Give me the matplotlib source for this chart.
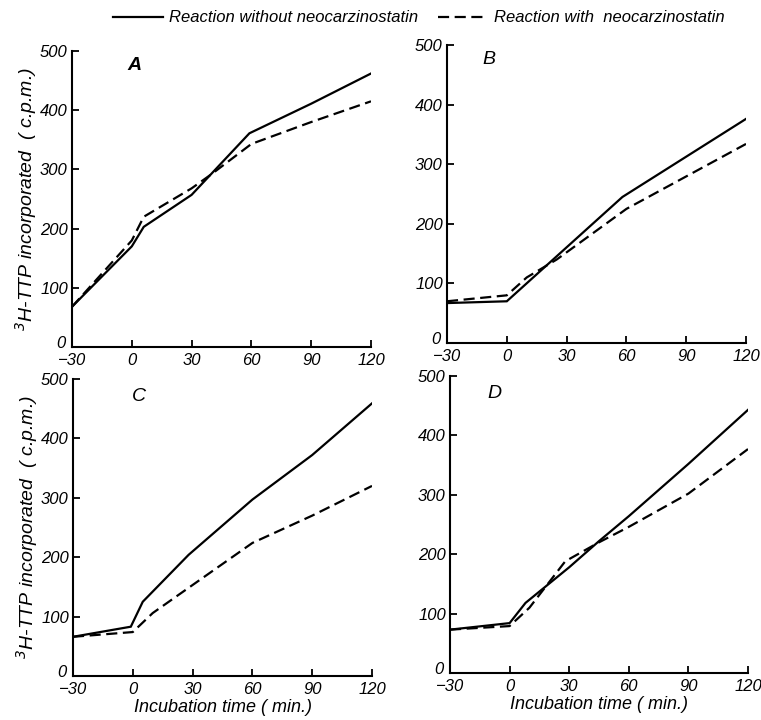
import matplotlib
matplotlib.use("Agg")
import matplotlib.pyplot as plt
from matplotlib.transforms import ScaledTranslation

FONT = ['Liberation Sans Narrow', 'Liberation Sans', 'DejaVu Sans']
plt.rcParams['font.family'] = FONT
plt.rcParams['font.style'] = 'italic'

# ---- data ----
xticks = [-30, 0, 30, 60, 90, 120]
yticks = [0, 100, 200, 300, 400, 500]

a_x_without = [-30, 0, 6, 30, 59, 90, 120]
a_y_without = [68, 170, 203, 257, 361, 411, 462]
a_x_with = [-30, 0, 6, 30, 40, 60, 90, 120]
a_y_with = [68, 180, 220, 268, 292, 343, 380, 415]

b_x_without = [-30, 0, 58, 120]
b_y_without = [67, 70, 245, 376]
b_x_with = [-30, 0, 10, 25, 60, 120]
b_y_with = [70, 80, 110, 140, 225, 334]

c_x_without = [-30, -1, 5, 28, 60, 90, 120]
c_y_without = [66, 83, 125, 204, 297, 372, 459]
c_x_with = [-30, 0, 10, 60, 90, 120]
c_y_with = [66, 74, 106, 224, 270, 320]

d_x_without = [-30, 0, 8, 30, 45, 60, 90, 120]
d_y_without = [73, 84, 118, 178, 222, 264, 352, 443]
d_x_with = [-30, 0, 10, 28, 45, 60, 90, 120]
d_y_with = [73, 79, 110, 188, 220, 246, 302, 377]

panels = [
    ("A", a_x_without, a_y_without, a_x_with, a_y_with),
    ("B", b_x_without, b_y_without, b_x_with, b_y_with),
    ("C", c_x_without, c_y_without, c_x_with, c_y_with),
    ("D", d_x_without, d_y_without, d_x_with, d_y_with),
]
legend_labels = ["Reaction without neocarzinostatin", "Reaction with  neocarzinostatin"]
ylabel = r"$^{3}$H-TTP incorporated  ( c.p.m.)"
xlabel = "Incubation time ( min.)"

W, H = 761, 720
fig = plt.figure(figsize=(W / 100, H / 100), dpi=100)

# axes rectangles in pixels: left, top, right, bottom
rects = [(72, 51, 371, 347), (447, 45, 746, 343), (73, 379, 372, 676), (450, 376, 748, 673)]
label_pos = [(0.21, 0.95), (0.14, 0.95), (0.22, 0.94), (0.15, 0.94)]

handles = None
for i, ((name, xs, ys, xw, yw), (l, t, r, b)) in enumerate(zip(panels, rects)):
    ax = fig.add_axes([l / W, 1 - b / H, (r - l) / W, (b - t) / H])
    h1, = ax.plot(xs, ys, color='black', lw=1.6, solid_joinstyle='miter')
    h2, = ax.plot(xw, yw, color='black', lw=1.6, ls=(0, (5, 2.5)))
    handles = [h1, h2]
    ax.set_xlim(-30, 120)
    ax.set_ylim(0, 500)
    ax.set_xticks(xticks)
    ax.set_yticks(yticks)
    ax.set_xticklabels([str(v).replace('-', '−') if v < 0 else str(v) for v in xticks])
    for s in ['top', 'right']:
        ax.spines[s].set_visible(False)
    for s in ['left', 'bottom']:
        ax.spines[s].set_linewidth(1.5)
    ax.tick_params(direction='in', length=5, width=1.3, labelsize=12, pad=4)
    ax.tick_params(axis='y', pad=3)
    for lab in ax.get_xticklabels() + ax.get_yticklabels():
        lab.set_fontstyle('italic')
    # lift the origin "0" label a little, as in the reference
    ylab0 = ax.get_yticklabels()[0]
    ylab0.set_transform(ylab0.get_transform() + ScaledTranslation(-2 / 100, 5 / 100, fig.dpi_scale_trans))
    ax.text(label_pos[i][0], label_pos[i][1], name, transform=ax.transAxes,
            fontsize=14, fontweight='bold' if name == 'A' else 'normal',
            ha='center', va='center')
    if i in (0, 2):
        ax.set_ylabel(ylabel, fontsize=14, labelpad=1)
    if i in (2, 3):
        ax.set_xlabel(xlabel, fontsize=13, labelpad=2)

fig.legend(handles, legend_labels, loc='center', bbox_to_anchor=(0.55, 1 - 18 / H),
           ncol=2, frameon=False, fontsize=12, handlelength=3.0, handletextpad=0.35,
           columnspacing=1.2)

fig.savefig("out.png", dpi=100)
